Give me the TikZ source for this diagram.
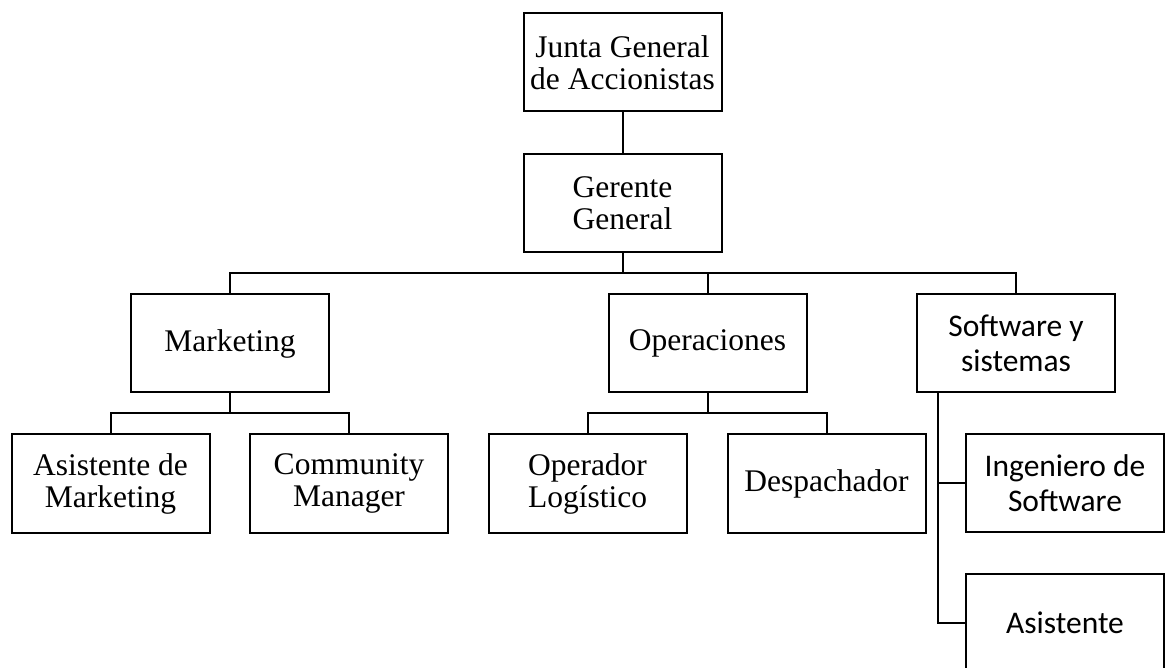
\documentclass[tikz,border=0pt]{standalone}
\usepackage{fontspec}
\setmainfont{Liberation Serif}
\newfontfamily\calib{Carlito}
\begin{document}
\begin{tikzpicture}[x=1pt,y=-1pt,
  box/.style={draw=black,line width=2pt,fill=white,minimum width=198pt,minimum height=98pt,
    inner sep=0pt,align=center,font=\fontsize{31.5}{32}\selectfont},
  sbox/.style={box,font=\calib\fontsize{31.5}{35}\selectfont},
  conn/.style={draw=black,line width=2pt}]
\useasboundingbox (0,0) rectangle (1171,668);
\clip (0,0) rectangle (1171,668);
% nodes
\node[box] (jga) at (622.5,62.5) {Junta General\\de Accionistas};
\node[box] (ger) at (622.5,203) {Gerente\\General};
\node[box] (mkt) at (230,343.5) {Marketing};
\node[box] (ops) at (707.5,343.5) {Operaciones};
\node[sbox] (sw) at (1016,343) {Software y\\sistemas};
\node[box] (am) at (110.5,483.5) {Asistente de\\Marketing};
\node[box] (cm) at (349,483.5) {Community\\Manager};
\node[box] (ol) at (587.5,483.5) {Operador\\Logístico};
\node[box] (de) at (826.5,483.5) {Despachador};
\node[sbox] (ing) at (1065,483) {Ingeniero de\\Software};
\node[sbox] (asi) at (1065,623) {Asistente};
% coordinates for buses
\coordinate (bus) at (622.5,273);
\coordinate (mb) at (230,413);
\coordinate (ob) at (707.5,413);
\coordinate (sv) at ([xshift=-78.5pt]sw.south);
% connectors
\draw[conn] (jga) -- (ger);
\draw[conn] (ger.south) -- (bus);
\draw[conn] (mkt.north) -- (mkt.north |- bus) -- (sw.north |- bus) -- (sw.north);
\draw[conn] (ops.north) -- (ops.north |- bus);
\draw[conn] (mkt.south) -- (mb);
\draw[conn] (am.north) -- (am.north |- mb) -- (cm.north |- mb) -- (cm.north);
\draw[conn] (ops.south) -- (ob);
\draw[conn] (ol.north) -- (ol.north |- ob) -- (de.north |- ob) -- (de.north);
\draw[conn] (sv) |- (ing.west);
\draw[conn] (sv) |- (asi.west);
\end{tikzpicture}
\end{document}
